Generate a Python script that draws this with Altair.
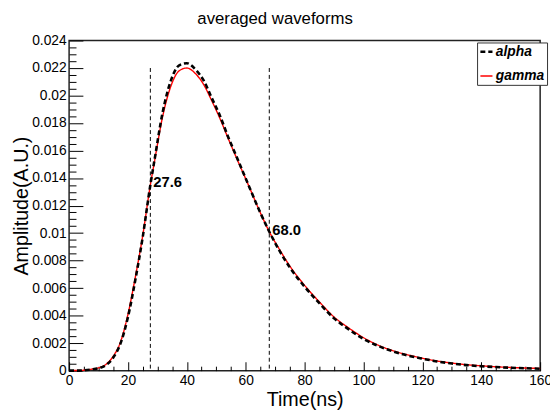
import altair as alt
import pandas as pd

# ---- data ----
time_ns = [0, 2.5, 5, 7.5, 10, 12.5, 15, 17.5, 20, 22.5, 25, 27.6, 29, 31.8, 34.6, 37.4,
           40, 42.9, 45.7, 48.5, 51.3, 54, 57, 61.3, 64.5, 68, 71.5, 75.3, 80, 85, 90,
           95, 100, 105, 110, 115, 120, 125, 130, 135, 140, 145, 150, 155, 160]
gamma = [0, 0.00001, 0.00003, 0.0001, 0.0002, 0.00045, 0.00105, 0.0021, 0.0041, 0.0068,
         0.0098, 0.0135, 0.0152, 0.0185, 0.0207, 0.0218, 0.0220, 0.0216, 0.0208, 0.0196,
         0.0183, 0.0169, 0.0154, 0.0133, 0.0117, 0.0101, 0.0088, 0.0075, 0.0062, 0.0050,
         0.0039, 0.0031, 0.0024, 0.00185, 0.00145, 0.00115, 0.0009, 0.0007, 0.00055, 0.00043,
         0.00035, 0.00028, 0.00023, 0.00019, 0.00016]
alpha = [0, 0, 0.00002, 0.00008, 0.00017, 0.0004, 0.00095, 0.0020, 0.0039, 0.0066,
         0.0097, 0.0135, 0.0153, 0.0188, 0.0211, 0.0222, 0.02235, 0.0219, 0.0211, 0.0198,
         0.0185, 0.0170, 0.0155, 0.0133, 0.0117, 0.0101, 0.0087, 0.0074, 0.0061, 0.0049,
         0.0038, 0.0030, 0.0023, 0.0018, 0.0014, 0.0011, 0.00087, 0.00067, 0.00052, 0.0004,
         0.00032, 0.00026, 0.00021, 0.00017, 0.00014]

marker_times = [27.6, 68.0]
marker_labels = ["27.6", "68.0"]
marker_label_y = [0.0137, 0.0102]
marker_top = [0.022, 0.022]

x_major = [0, 20, 40, 60, 80, 100, 120, 140, 160]
x_minor = [5, 10, 15, 25, 30, 35, 45, 50, 55, 65, 70, 75, 85, 90, 95,
           105, 110, 115, 125, 130, 135, 145, 150, 155]
y_major = [0, 0.002, 0.004, 0.006, 0.008, 0.01, 0.012, 0.014, 0.016, 0.018,
           0.02, 0.022, 0.024]
y_minor = [0.0005, 0.001, 0.0015, 0.0025, 0.003, 0.0035, 0.0045, 0.005, 0.0055,
           0.0065, 0.007, 0.0075, 0.0085, 0.009, 0.0095, 0.0105, 0.011, 0.0115,
           0.0125, 0.013, 0.0135, 0.0145, 0.015, 0.0155, 0.0165, 0.017, 0.0175,
           0.0185, 0.019, 0.0195, 0.0205, 0.021, 0.0215, 0.0225, 0.023, 0.0235]

series_names = ["alpha", "gamma"]
series_colors = ["#000000", "#ff0000"]
chart_title = "averaged waveforms"

# ---- tables ----
curves = pd.DataFrame(
    {"t": time_ns + time_ns,
     "v": gamma + alpha,
     "series": ["gamma"] * len(time_ns) + ["alpha"] * len(time_ns)}
)
markers = pd.DataFrame({"t": marker_times, "label": marker_labels,
                        "v": marker_label_y, "top": marker_top})

FONT = "Liberation Sans"
xs = alt.Scale(domain=[0, 160], nice=False, zero=False)
ys = alt.Scale(domain=[0, 0.024], nice=False, zero=False)

x_axis = alt.Axis(orient="bottom", values=x_major, tickSize=9, offset=-9, domain=False,
                  grid=False, labelPadding=3, labelFontSize=14, labelFont=FONT,
                  labelColor="#000", tickColor="#000", title="Time(ns)",
                  titleFont=FONT, titleFontSize=20, titleFontWeight="normal",
                  titleColor="#000", titlePadding=2, labelFlush=False)
y_axis = alt.Axis(orient="left", values=y_major, tickSize=14, offset=-14, domain=False,
                  grid=False, labelPadding=3, labelFontSize=14, labelFont=FONT,
                  labelColor="#000", tickColor="#000", format="~g",
                  title="Amplitude(A.U.)", titleFont=FONT, titleFontSize=20,
                  titleFontWeight="normal", titleColor="#000", titlePadding=0)

legend = alt.Legend(orient="none", legendX=414, legendY=2, title=None,
                    strokeColor="#333", fillColor="white", padding=2,
                    labelFont=FONT, labelFontSize=14,
                    labelFontWeight="bold", labelFontStyle="italic",
                    labelColor="#000", symbolType="stroke",
                    symbolSize=150, symbolStrokeWidth=2,
                    labelOffset=2, rowPadding=10, cornerRadius=0)

lines = alt.Chart(curves).mark_line(interpolate="monotone").encode(
    x=alt.X("t:Q", scale=xs, axis=x_axis),
    y=alt.Y("v:Q", scale=ys, axis=y_axis),
    color=alt.Color("series:N",
                    scale=alt.Scale(domain=series_names, range=series_colors),
                    legend=legend),
    strokeDash=alt.StrokeDash("series:N",
                              scale=alt.Scale(domain=series_names, range=[[5, 3], [1, 0]]),
                              legend=legend),
    strokeWidth=alt.StrokeWidth("series:N",
                                scale=alt.Scale(domain=series_names, range=[2.6, 1.4]),
                                legend=None),
    detail="series:N",
)

rules = alt.Chart(markers).mark_rule(color="#000", strokeWidth=1, strokeDash=[4, 3]).encode(
    x=alt.X("t:Q", scale=xs, axis=x_axis),
    y=alt.Y("top:Q", scale=ys, axis=y_axis),
    y2=alt.datum(0),
)

labels = alt.Chart(markers).mark_text(align="left", baseline="middle", dx=3,
                                      font=FONT, fontSize=15, fontWeight="bold",
                                      color="#000").encode(
    x=alt.X("t:Q", scale=xs, axis=x_axis),
    y=alt.Y("v:Q", scale=ys, axis=y_axis),
    text="label:N",
)

title_text = alt.Chart(alt.Data(values=[{"title": chart_title}])).mark_text(
    align="center", baseline="alphabetic", font=FONT, fontSize=17, color="#000"
).encode(x=alt.value(209), y=alt.value(-17), text="title:N")

main = alt.layer(lines, rules, labels, title_text)

minor = alt.Chart(curves).mark_line(strokeOpacity=0).encode(
    x=alt.X("t:Q", scale=xs,
            axis=alt.Axis(orient="bottom", values=x_minor, tickSize=4.5, offset=-4.5,
                          domain=False, grid=False, labels=False, title=None,
                          tickColor="#000")),
    y=alt.Y("v:Q", scale=ys,
            axis=alt.Axis(orient="left", values=y_minor, tickSize=7, offset=-7,
                          domain=False, grid=False, labels=False, title=None,
                          tickColor="#000")),
    detail="series:N",
)

chart = alt.layer(main, minor).resolve_scale(x="independent", y="independent").properties(
    width=478, height=335,
    background="white",
    autosize=alt.AutoSizeParams(type="none"),
    padding={"left": 62, "top": 30, "right": 10, "bottom": 40},
).configure_view(stroke="#222", strokeWidth=1.5)

chart.save("out.html", embed_options={"renderer": "svg", "actions": False})
